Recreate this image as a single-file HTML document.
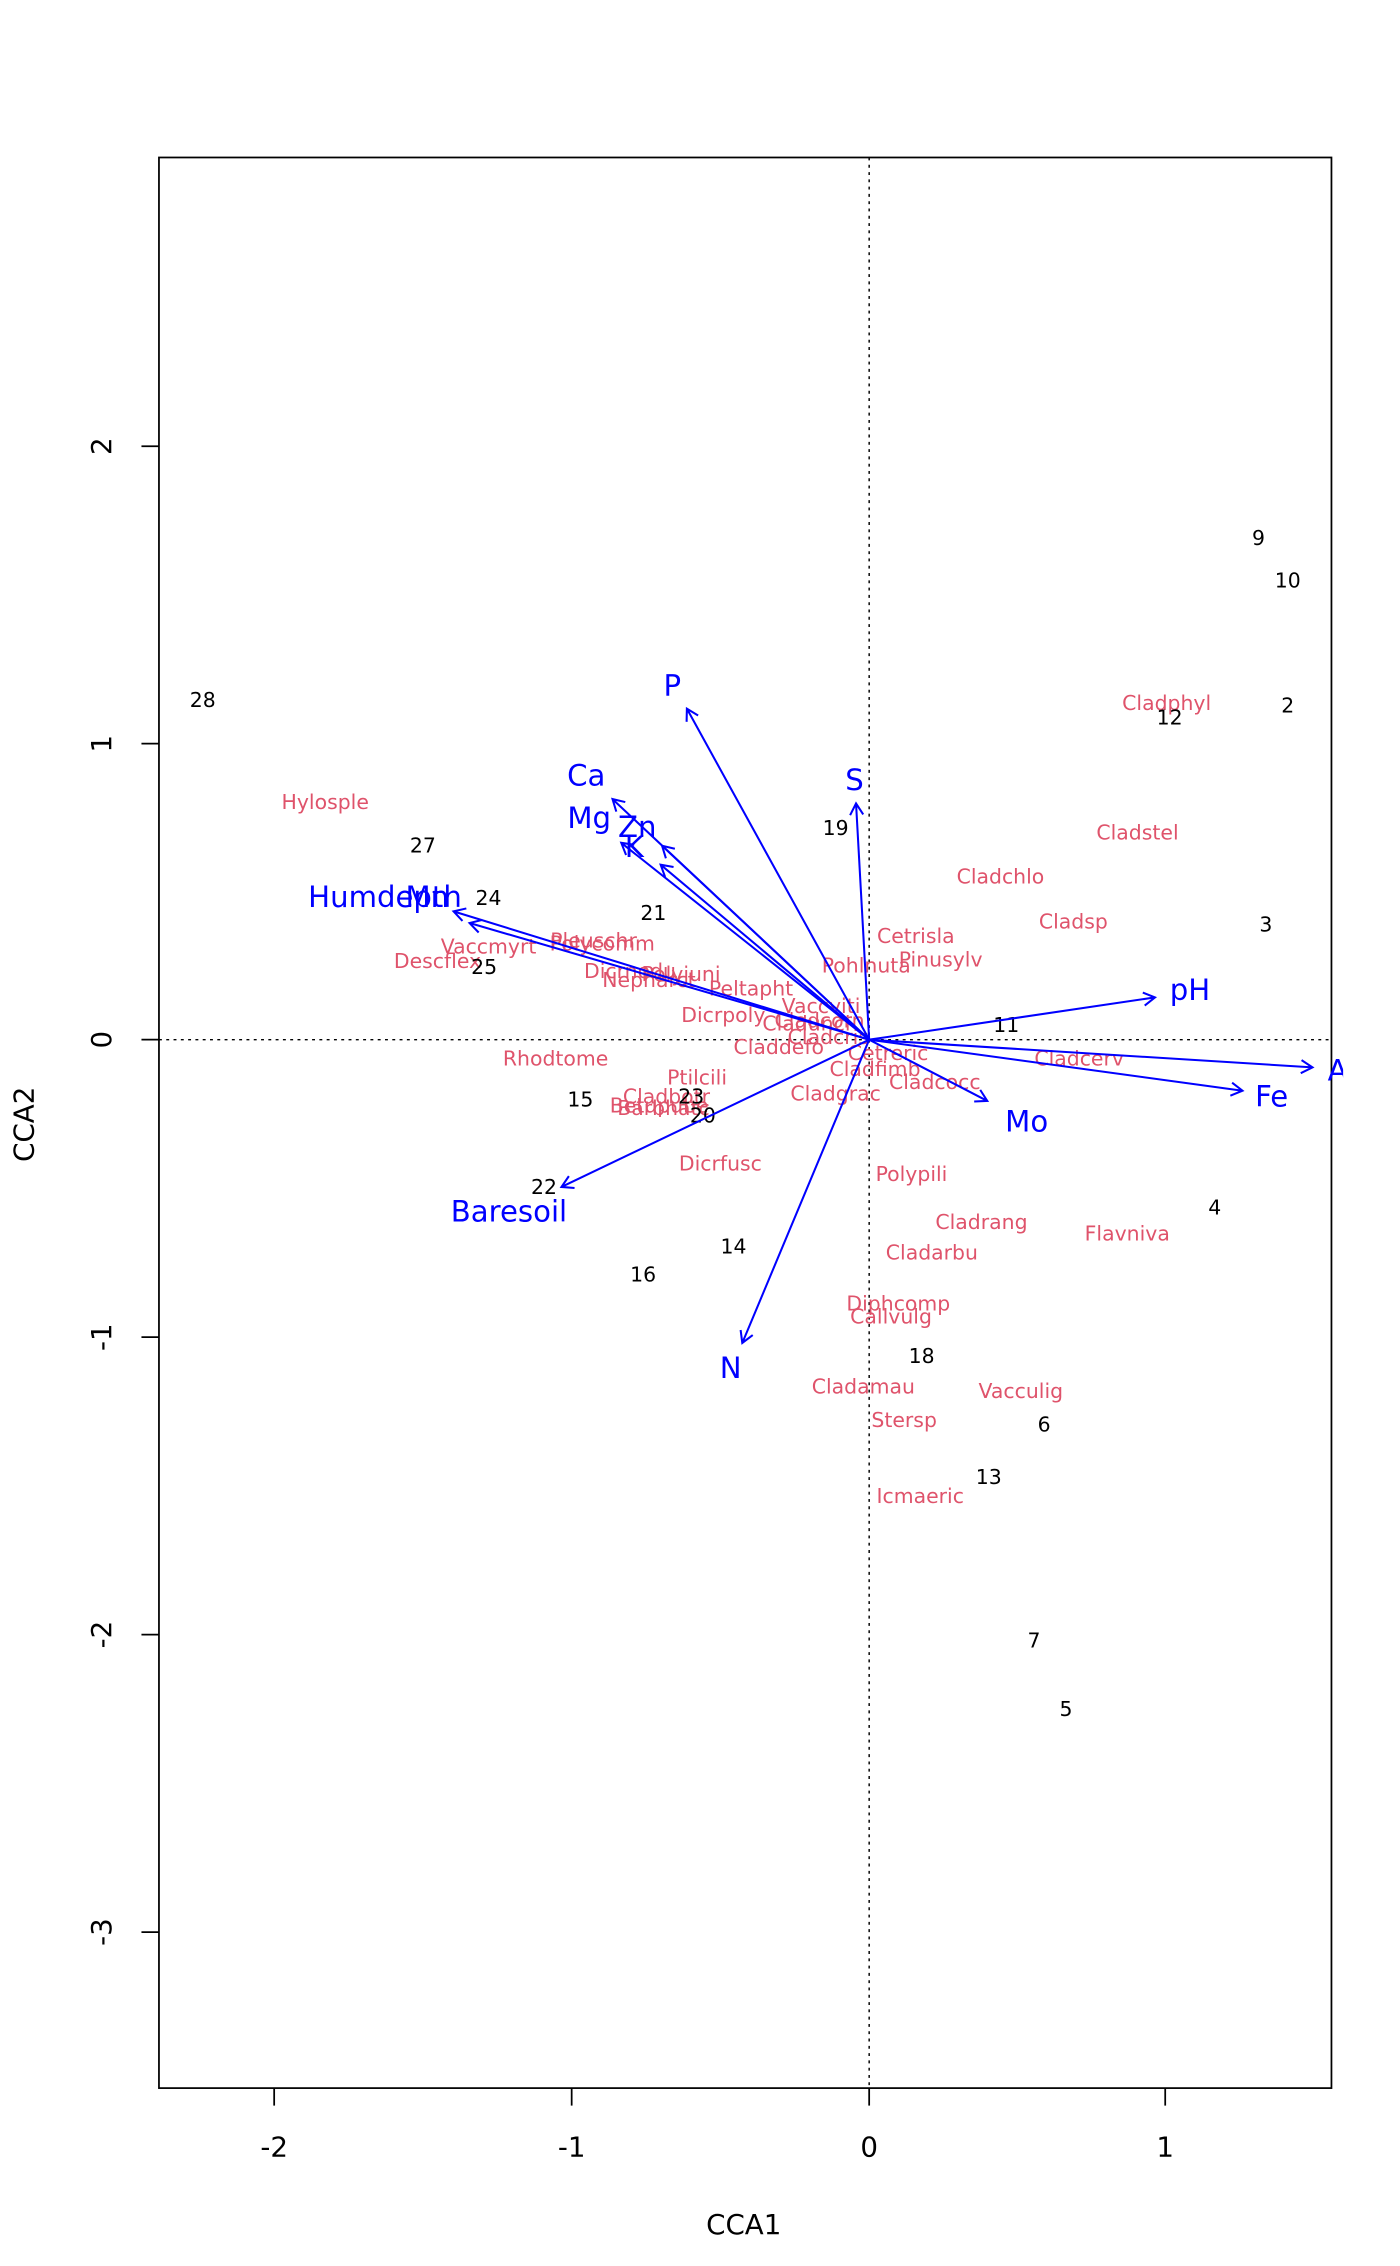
<!DOCTYPE html>
<html><head><meta charset="utf-8"><style>html,body{margin:0;padding:0;background:#fff}svg{display:block}</style></head><body>
<svg width="1400" height="2266" viewBox="0 0 960 1554" preserveAspectRatio="none" xmlns="http://www.w3.org/2000/svg" font-family="'DejaVu Sans','Liberation Sans',sans-serif">
<defs><clipPath id="c"><rect x="0" y="0" width="921" height="1554"/></clipPath></defs>
<rect x="109" y="108" width="804" height="1324" fill="none" stroke="#000" stroke-width="1.2"/>
<line x1="109" y1="713" x2="913" y2="713" stroke="#000" stroke-dasharray="2,3"/>
<line x1="596" y1="108" x2="596" y2="1432" stroke="#000" stroke-dasharray="2,3"/>
<g stroke="#000" stroke-width="1.2">
<line x1="188" y1="1432" x2="188" y2="1444"/><line x1="392" y1="1432" x2="392" y2="1444"/><line x1="596" y1="1432" x2="596" y2="1444"/><line x1="799" y1="1432" x2="799" y2="1444"/>
<line x1="109" y1="306" x2="97" y2="306"/><line x1="109" y1="510" x2="97" y2="510"/><line x1="109" y1="713" x2="97" y2="713"/><line x1="109" y1="917" x2="97" y2="917"/><line x1="109" y1="1121" x2="97" y2="1121"/><line x1="109" y1="1325" x2="97" y2="1325"/>
</g>
<g font-size="19" text-anchor="middle" fill="#000">
<text x="188" y="1479">-2</text><text x="392" y="1479">-1</text><text x="596" y="1479">0</text><text x="799" y="1479">1</text>
<text transform="translate(76,306) rotate(-90)">2</text><text transform="translate(76,510) rotate(-90)">1</text><text transform="translate(76,713) rotate(-90)">0</text><text transform="translate(76,917) rotate(-90)">-1</text><text transform="translate(76,1121) rotate(-90)">-2</text><text transform="translate(76,1325) rotate(-90)">-3</text>
<text x="510" y="1532">CCA1</text>
<text transform="translate(23,771) rotate(-90)">CCA2</text>
</g>
<g font-size="14" fill="#DF536B" text-anchor="middle" dominant-baseline="central">
<text x="800" y="482">Cladphyl</text><text x="780" y="571">Cladstel</text><text x="686" y="601">Cladchlo</text><text x="736" y="632">Cladsp</text><text x="628" y="642">Cetrisla</text><text x="645" y="658">Pinusylv</text><text x="594" y="662">Pohlnuta</text><text x="223" y="550">Hylosple</text><text x="407" y="645">Pleuschr</text><text x="413" y="647">Polycomm</text><text x="335" y="649">Vaccmyrt</text><text x="300" y="659">Descflex</text><text x="432" y="666">Dicrnodu</text><text x="467" y="668">Polyjuni</text><text x="445" y="672">Nepharct</text><text x="515" y="678">Peltapht</text><text x="496" y="696">Dicrpoly</text><text x="563" y="690">Vaccviti</text><text x="553" y="702">Cladunci</text><text x="562" y="700">Cladcorn</text><text x="534" y="718">Claddefo</text><text x="568" y="711">Cladcris</text><text x="609" y="722">Cetreric</text><text x="600" y="733">Cladfimb</text><text x="641" y="742">Cladcocc</text><text x="573" y="750">Cladgrac</text><text x="740" y="726">Cladcerv</text><text x="381" y="726">Rhodtome</text><text x="478" y="739">Ptilcili</text><text x="457" y="752">Cladbotr</text><text x="452" y="758">Betupube</text><text x="455" y="760">Barbhatc</text><text x="494" y="798">Dicrfusc</text><text x="625" y="805">Polypili</text><text x="673" y="838">Cladrang</text><text x="773" y="846">Flavniva</text><text x="639" y="859">Cladarbu</text><text x="616" y="894">Diphcomp</text><text x="611" y="903">Callvulg</text><text x="592" y="951">Cladamau</text><text x="700" y="954">Vacculig</text><text x="620" y="974">Stersp</text><text x="631" y="1026">Icmaeric</text>
</g>
<g font-size="14" fill="#000" text-anchor="middle" dominant-baseline="central">
<text x="863" y="369">9</text><text x="883" y="398">10</text><text x="883" y="484">2</text><text x="802" y="492">12</text><text x="139" y="480">28</text><text x="290" y="580">27</text><text x="335" y="616">24</text><text x="448" y="626">21</text><text x="332" y="663">25</text><text x="573" y="568">19</text><text x="868" y="634">3</text><text x="690" y="703">11</text><text x="398" y="754">15</text><text x="474" y="752">23</text><text x="482" y="765">20</text><text x="373" y="814">22</text><text x="503" y="855">14</text><text x="441" y="874">16</text><text x="833" y="828">4</text><text x="632" y="930">18</text><text x="716" y="977">6</text><text x="678" y="1013">13</text><text x="709" y="1125">7</text><text x="731" y="1172">5</text>
</g>
<g stroke="#0000FF" stroke-width="1.4" fill="none" id="ar"></g>
<g font-size="20" fill="#0000FF" text-anchor="middle" dominant-baseline="central" clip-path="url(#c)">
<text x="461" y="470">P</text><text x="586" y="535">S</text><text x="402" y="532">Ca</text><text x="404" y="561">Mg</text><text x="437" y="567">Zn</text><text x="435" y="581">K</text><text x="264" y="615">Humdepth</text><text x="293" y="615">Mn</text><text x="816" y="679">pH</text><text x="920" y="734">Al</text><text x="872" y="752">Fe</text><text x="704" y="769">Mo</text><text x="501" y="938">N</text><text x="349" y="831">Baresoil</text>
</g>
<script>
var ends=[[471,486],[587,551],[420,548],[426,578],[454,580],[453,593],[311,625],[322,633],[792,684],[900,732],[852,748],[677,755],[509,921],[385,814]];
var g=document.getElementById('ar'),ns='http://www.w3.org/2000/svg',ox=596,oy=713;
ends.forEach(function(e){var dx=e[0]-ox,dy=e[1]-oy,L=Math.hypot(dx,dy),ux=dx/L,uy=dy/L,a=Math.PI/6,h=9;
var p=document.createElementNS(ns,'path');
var c=Math.cos(a),s=Math.sin(a);
var x1=e[0]-h*(ux*c-uy*s),y1=e[1]-h*(uy*c+ux*s),x2=e[0]-h*(ux*c+uy*s),y2=e[1]-h*(uy*c-ux*s);
p.setAttribute('d','M'+ox+' '+oy+'L'+e[0]+' '+e[1]+'M'+x1+' '+y1+'L'+e[0]+' '+e[1]+'L'+x2+' '+y2);g.appendChild(p);});
</script>
</svg>
</body></html>
